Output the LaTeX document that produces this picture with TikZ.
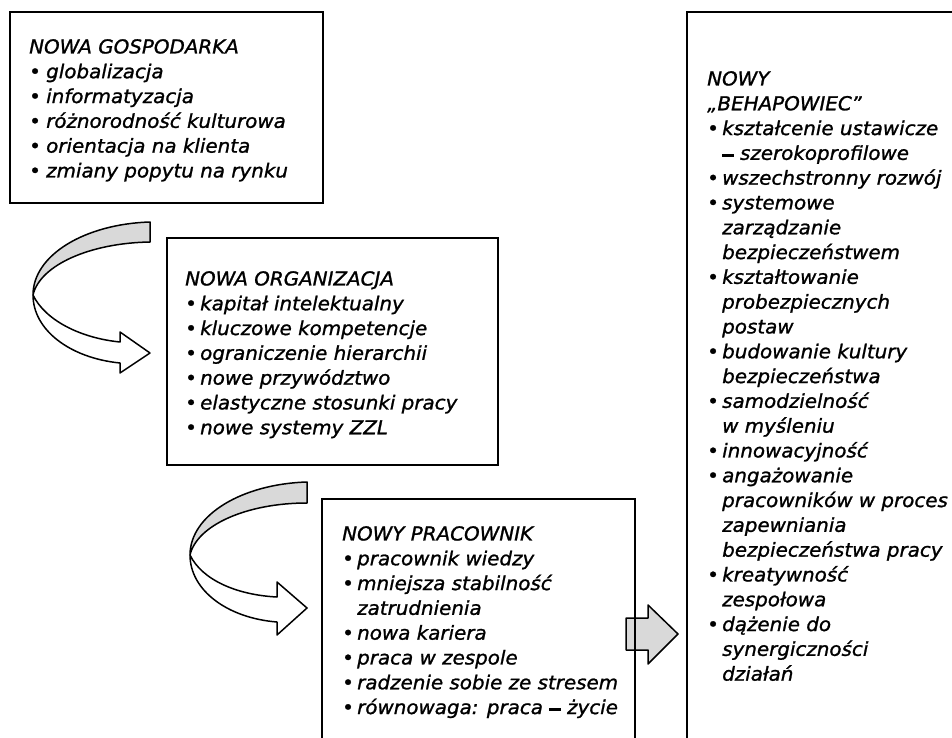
\documentclass[tikz,border=0pt]{standalone}
\usepackage{fontspec}
\setmainfont{DejaVu Sans}[FakeStretch=1.035, FakeBold=1.2]
\definecolor{grayfill}{RGB}{217,217,217}
\newcommand\bul{\makebox[15pt][l]{•}}
\newcommand\bulw{\makebox[17pt][l]{•}}
\newcommand\ind{\hspace*{15pt}}
\newcommand\thdash{\rule[0.16em]{0.6em}{0.13em}}
\begin{document}
\begin{tikzpicture}[x=1pt,y=-1pt,
  box/.style={draw=black, line width=1.8pt, inner sep=0pt},
  txt/.style={anchor=north west, inner sep=0pt, align=left, font=\fontsize{19.2}{24.8}\selectfont\itshape},
  rib/.style={draw=black, line width=1.5pt, line join=round},
  ]
\useasboundingbox (0,0) rectangle (952,738);
\clip (0,0) rectangle (952,738);

% curved arrow 1
\filldraw[rib, fill=grayfill] (150,222) .. controls (85,224) and (33,255) .. (33,295)
  .. controls (40,265) and (90,243) .. (150,242) -- cycle;
\filldraw[rib, fill=white] (33,295) .. controls (45,320) and (80,338) .. (120,342)
  -- (120,332) -- (150,353) -- (120,373) -- (120,363)
  .. controls (70,358) and (33,330) .. (33,295) -- cycle;

% curved arrow 2
\begin{scope}[shift={(157,260)}]
\filldraw[rib, fill=grayfill] (150,222) .. controls (85,224) and (33,255) .. (33,295)
  .. controls (40,265) and (90,243) .. (150,243) -- cycle;
\filldraw[rib, fill=white] (33,295) .. controls (45,320) and (80,335) .. (120,337)
  -- (120,322) -- (150,348) -- (120,375) -- (120,362)
  .. controls (70,358) and (33,330) .. (33,295) -- cycle;
\end{scope}

% block arrow
\filldraw[rib, fill=grayfill] (626,618) -- (648,618) -- (648,605) -- (678,634)
  -- (648,664) -- (648,650) -- (626,650) -- cycle;

% boxes
\node[box, minimum width=313pt, minimum height=191pt] (b1) at (166.5,107.5) {};
\node[box, minimum width=331pt, minimum height=227pt] (b2) at (332.5,351.5) {};
\node[box, minimum width=313pt, minimum height=271pt] (b3) at (478.5,634.5) {};
\node[box, minimum width=323pt, minimum height=758pt] (b4) at (848.5,391) {};

% texts
\node[txt] (t1) at (29,39) {NOWA GOSPODARKA\\
\bulw globalizacja\\
\bulw informatyzacja\\
\bulw różnorodność kulturowa\\
\bulw orientacja na klienta\\
\bulw zmiany popytu na rynku};

\node[txt] (t2) at (185,271) {NOWA ORGANIZACJA\\
\bul kapitał intelektualny\\
\bul kluczowe kompetencje\\
\bul ograniczenie hierarchii\\
\bul nowe przywództwo\\
\bul elastyczne stosunki pracy\\
\bul nowe systemy ZZL};

\node[txt] (t3) at (342,526) {NOWY PRACOWNIK\\
\bul pracownik wiedzy\\
\bul mniejsza stabilność\\
\ind zatrudnienia\\
\bul nowa kariera\\
\bul praca w zespole\\
\bul radzenie sobie ze stresem\\
\bul równowaga: praca \thdash{} życie};

\node[txt] (t4) at (707,71) {NOWY\\
„BEHAPOWIEC”\\
\bul kształcenie ustawicze\\
\ind \thdash{} szerokoprofilowe\\
\bul wszechstronny rozwój\\
\bul systemowe\\
\ind zarządzanie\\
\ind bezpieczeństwem\\
\bul kształtowanie\\
\ind probezpiecznych\\
\ind postaw\\
\bul budowanie kultury\\
\ind bezpieczeństwa\\
\bul samodzielność\\
\ind w myśleniu\\
\bul innowacyjność\\
\bul angażowanie\\
\ind pracowników w proces\\
\ind zapewniania\\
\ind bezpieczeństwa pracy\\
\bul kreatywność\\
\ind zespołowa\\
\bul dążenie do\\
\ind synergiczności\\
\ind działań};
\end{tikzpicture}
\end{document}
